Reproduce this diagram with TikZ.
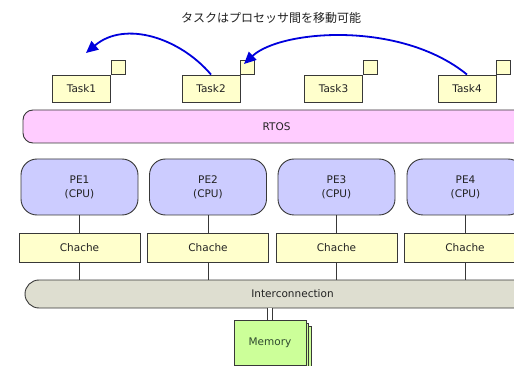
\documentclass[tikz,border=0pt]{standalone}
\usepackage{fontspec}
\setmainfont{DejaVu Sans}
\newfontfamily\jpfont{Noto Sans CJK JP}
\usetikzlibrary{arrows.meta}

\definecolor{linegray}{HTML}{383838}
\definecolor{txtgray}{HTML}{222222}
\definecolor{taskyellow}{HTML}{FFFFCC}
\definecolor{rtospink}{HTML}{FFCCFF}
\definecolor{pelav}{HTML}{CCCCFF}
\definecolor{icgray}{HTML}{DEDED0}
\definecolor{memgreen}{HTML}{CCFF99}
\definecolor{memtext}{HTML}{2F4A2F}
\definecolor{movblue}{HTML}{0000DD}

\tikzset{
  unit/.style={draw=linegray, line width=0.9pt, inner sep=0pt, text=txtgray,
    font=\fontsize{10.5}{14}\selectfont, align=center},
  taskbox/.style={unit, fill=taskyellow, minimum width=58pt, minimum height=27pt},
  tagbox/.style={unit, fill=taskyellow, minimum width=14pt, minimum height=14pt, anchor=south west},
  osbar/.style={unit, fill=rtospink, rounded corners=10pt, minimum height=33pt},
  pebox/.style={unit, fill=pelav, rounded corners=16pt, minimum width=117pt, minimum height=56pt},
  cachebox/.style={unit, fill=taskyellow, minimum width=121pt, minimum height=29pt},
  busbar/.style={unit, fill=icgray, rounded corners=14pt, minimum height=28pt},
  membox/.style={unit, fill=memgreen, text=memtext, minimum width=72pt, minimum height=45pt},
  wire/.style={draw=linegray, line width=0.9pt},
  move/.style={draw=movblue, line width=1.8pt, -{Triangle[length=12pt,width=11pt]}},
}

\begin{document}
\begin{tikzpicture}[x=1pt,y=-1pt]
\clip (0,0) rectangle (514,366);
\fill[white] (0,0) rectangle (514,366);

% caption
\node[text=txtgray, font=\jpfont\fontsize{12}{14}\selectfont] (title) at (271,18) {タスクはプロセッサ間を移動可能};

% tasks, each with a small tag on its upper right corner
\foreach \n/\x in {1/81.5, 2/211, 3/333.5, 4/467} {
  \node[tagbox] (g\n) at (\x+29,75) {};
  \node[taskbox] (t\n) at (\x,88.5) {Task\n};
}

% RTOS layer
\node[osbar, minimum width=507pt] (rtos) at (276.5,126.5) {RTOS};

% processing elements and caches
\foreach \n/\x/\cx in {1/79.5/79.5, 2/208/208, 3/336.5/336.5, 4/465.5/465} {
  \node[pebox] (pe\n) at (\x,187) {PE\n\\(CPU)};
  \node[cachebox] (c\n) at (\cx,247.5) {Chache};
}

% interconnection
\node[busbar, minimum width=535pt] (ic) at (292.5,294) {Interconnection};

\foreach \n in {1,...,4} {
  \draw[wire] (pe\n.south) -- (pe\n.south |- c\n.north);
  \draw[wire] (c\n.south) -- (c\n.south |- ic.north);
}

% memory stack
\node[membox] (mem3) at (275,348.5) {};
\node[membox] (mem2) at (272,345.5) {};
\node[membox] (mem) at (270,342.5) {Memory};
\draw[wire, double=white, double distance=3.5pt] (mem.north) -- (mem.north |- ic.south);

% task migration arrows
\coordinate (tip1) at (86,53);
\coordinate (tip2) at (244,64);
\draw[move] (t2.north) .. controls (180,38) and (125,20) .. (tip1);
\draw[move] (t4.north) .. controls (400,20) and (280,30) .. (tip2);
\end{tikzpicture}
\end{document}
